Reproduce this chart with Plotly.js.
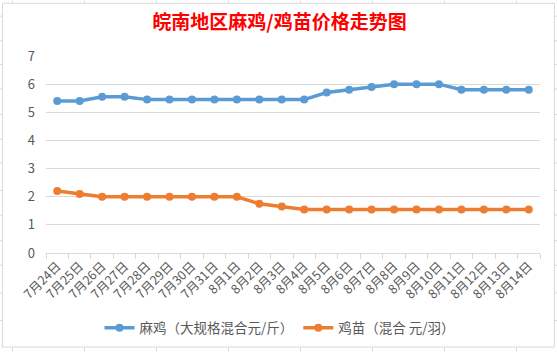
<!DOCTYPE html>
<html>
<head>
<meta charset="utf-8">
<script src="https://cdn.plot.ly/plotly-3.0.1.min.js"></script>
<style>
html,body{margin:0;padding:0;background:#fff;}
#chart{width:557px;height:356px;}
</style>
</head>
<body>
<div id="chart"></div>
<script>
var categories = ["7月24日","7月25日","7月26日","7月27日","7月28日","7月29日","7月30日","7月31日","8月1日","8月2日","8月3日","8月4日","8月5日","8月6日","8月7日","8月8日","8月9日","8月10日","8月11日","8月12日","8月13日","8月14日"];
var maji = [5.4,5.4,5.55,5.55,5.45,5.45,5.45,5.45,5.45,5.45,5.45,5.45,5.7,5.8,5.9,6.0,6.0,6.0,5.8,5.8,5.8,5.8];
var jimiao = [2.2,2.1,2.0,2.0,2.0,2.0,2.0,2.0,2.0,1.75,1.65,1.55,1.55,1.55,1.55,1.55,1.55,1.55,1.55,1.55,1.55,1.55];
var seriesNames = ["麻鸡（大规格混合元/斤）","鸡苗（混合 元/羽）"];
var titleText = "皖南地区麻鸡/鸡苗价格走势图";
var yTicks = [0,1,2,3,4,5,6,7];

var W = 557, H = 356;
var M = {l:46, r:17, t:56, b:100};
var pw = W - M.l - M.r, ph = H - M.t - M.b;
function px(x){ return (x - M.l) / pw; }
function py(y){ return (H - M.b - y) / ph; }

var font = "'Noto Sans CJK SC', 'Noto Sans', sans-serif";
var gray = "#d9d9d9";

var traces = [
  {x: categories, y: maji, name: seriesNames[0], type: "scatter", mode: "lines+markers",
   line: {color: "#5B9BD5", width: 3.5}, marker: {color: "#5B9BD5", size: 8}},
  {x: categories, y: jimiao, name: seriesNames[1], type: "scatter", mode: "lines+markers",
   line: {color: "#ED7D31", width: 3.5}, marker: {color: "#ED7D31", size: 8}}
];

var shapes = [
  {type:"rect", xref:"paper", yref:"paper", x0:px(2.5), x1:px(554.5), y0:py(351.5), y1:py(2.5),
   line:{color:gray, width:1}, fillcolor:"rgba(0,0,0,0)", layer:"below"}
];
var colX = [12,84,156,228,300,372,444,516];
colX.forEach(function(x){
  shapes.push({type:"line", xref:"paper", yref:"paper", x0:px(x+0.5), x1:px(x+0.5), y0:py(0), y1:py(2.5), line:{color:gray,width:1}});
  shapes.push({type:"line", xref:"paper", yref:"paper", x0:px(x+0.5), x1:px(x+0.5), y0:py(351.5), y1:py(356), line:{color:gray,width:1}});
});
var rowY = [15,40,64,89,115,140,164,192,217,243,268,296,324];
rowY.forEach(function(y){
  shapes.push({type:"line", xref:"paper", yref:"paper", x0:px(0), x1:px(2.5), y0:py(y+0.5), y1:py(y+0.5), line:{color:gray,width:1}});
  shapes.push({type:"line", xref:"paper", yref:"paper", x0:px(554.5), x1:px(557), y0:py(y+0.5), y1:py(y+0.5), line:{color:gray,width:1}});
});

var layout = {
  width: W, height: H,
  margin: M,
  paper_bgcolor: "#ffffff", plot_bgcolor: "#ffffff",
  font: {family: font, color: "#595959", size: 12},
  title: {text: titleText, font: {family: font, size: 19, color: "#ff0000", weight: "bold"},
          x: px(279.5), xref: "paper", xanchor: "center", y: 1 - 22.5/H, yref: "container", yanchor: "middle"},
  xaxis: {type: "category", range: [-0.5, categories.length - 0.5], tickangle: -45,
          showgrid: false, showline: true, linecolor: gray, linewidth: 1,
          ticks: "outside", tickson: "boundaries", ticklen: 5, tickcolor: gray, tickwidth: 1,
          tickfont: {family: font, size: 12.5, color: "#595959"}, fixedrange: true},
  yaxis: {range: [0, 7], tickvals: yTicks, showgrid: true, gridcolor: gray, gridwidth: 1,
          zeroline: false, showline: false, ticks: "", ticklabelstandoff: 10,
          tickfont: {family: font, size: 13, color: "#595959"}, fixedrange: true},
  showlegend: true,
  legend: {orientation: "h", x: px(280), xanchor: "center", y: py(332), yanchor: "middle",
           font: {family: font, size: 13.5, color: "#595959"}, itemwidth: 30, tracegroupgap: 0,
           bgcolor: "rgba(0,0,0,0)"},
  shapes: shapes
};

Plotly.newPlot("chart", traces, layout, {displayModeBar: false, staticPlot: true});
</script>
</body>
</html>
